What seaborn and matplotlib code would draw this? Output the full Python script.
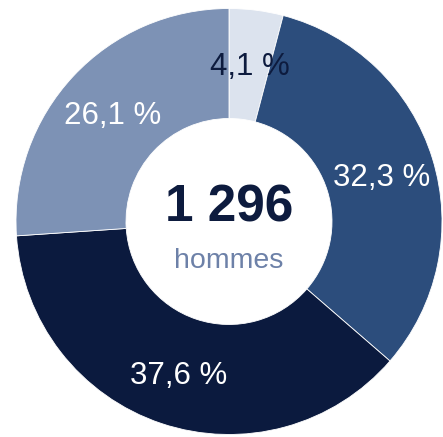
import matplotlib
matplotlib.use("Agg")
import matplotlib.pyplot as plt
import seaborn as sns

categories = ["A", "B", "C", "D"]
values = [4.1, 32.3, 37.6, 26.1]
value_labels = ["4,1 %", "32,3 %", "37,6 %", "26,1 %"]
colors = ["#dce3ee", "#2c4d7c", "#0b1a3e", "#7d92b5"]
label_colors = ["#0d1b3e", "white", "white", "white"]
total_value = "1 296"
total_label = "hommes"

sns.set_theme(style="white")
plt.rcParams["font.family"] = ["Liberation Sans", "DejaVu Sans"]

W, H = 443, 437
fig = plt.figure(figsize=(W / 100, H / 100), dpi=100)
ax = fig.add_axes([0, 0, 1, 1])

cx, cy = 229.0, H - 221.5
R = 213
r_in = 103

wedges, texts, autotexts = ax.pie(
    values,
    colors=colors,
    startangle=90,
    counterclock=False,
    center=(cx, cy),
    radius=R,
    autopct=lambda p: "",
    pctdistance=0.748,
    wedgeprops=dict(width=R - r_in, edgecolor="#ffffff", linewidth=0.6),
    frame=True,
)
ax.set_xlim(0, W)
ax.set_ylim(0, H)
ax.set_aspect("equal")
ax.axis("off")

for t, lab, col in zip(autotexts, value_labels, label_colors):
    t.set_text(lab)
    t.set_color(col)
    t.set_fontsize(22.5)
    t.set_va("center_baseline")
    t.set_ha("center")

ax.text(cx, cy + 13, total_value, ha="center", va="center",
        fontsize=37, fontweight="bold", color="#0d1b3e")
ax.text(cx, cy - 40, total_label, ha="center", va="center",
        fontsize=20.5, color="#6d81a8")

fig.savefig("out.png", dpi=100, facecolor="white")
